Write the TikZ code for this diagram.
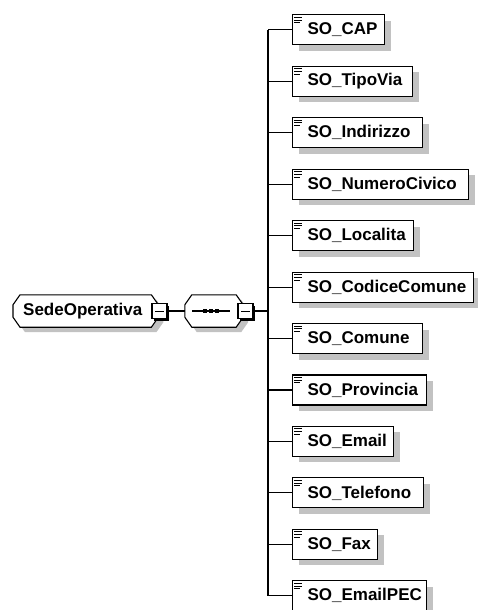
\documentclass[tikz,border=0pt]{standalone}
\usepackage{fontspec}
\setmainfont{Liberation Sans}
\usetikzlibrary{shadows,backgrounds}
\newcommand\octdraw[4]{\draw[#1]
 ([shift={(7+#3,#4)}]#2.north west) -- ([shift={(-7+#3,#4)}]#2.north east) --
 ([shift={(#3,10+#4)}]#2.north east) -- ([shift={(#3,-10+#4)}]#2.south east) --
 ([shift={(-7+#3,#4)}]#2.south east) -- ([shift={(7+#3,#4)}]#2.south west) --
 ([shift={(#3,-10+#4)}]#2.south west) -- ([shift={(#3,10+#4)}]#2.north west) -- cycle;}
\begin{document}
\begin{tikzpicture}[x=1pt,y=-1pt,
  lbl/.style={font=\bfseries\fontsize{17}{19}\selectfont},
  elem/.style={lbl,draw,line width=1.1pt,fill=white,anchor=north west,
    minimum height=30pt,inner xsep=15pt,inner ysep=0pt,align=left,
    drop shadow={shadow xshift=6pt,shadow yshift=-6pt,fill=black!24,opacity=1,draw=none}},
  octo/.style={lbl,draw=none,minimum height=32pt,inner ysep=0pt,inner xsep=10pt,align=left},
  minusbox/.style={draw,line width=1.1pt,fill=white,minimum size=15pt,inner sep=0pt,
    drop shadow={shadow xshift=2pt,shadow yshift=-2pt,fill=black,opacity=1,draw=none}},
  conn/.style={line width=1.1pt},
  icon/.style={line width=0.9pt}]
\useasboundingbox (0,0) rectangle (478,610);
\coordinate (tx) at (268,0);

% elements
\foreach \i/\lab/\w in {0/SO\_CAP/92, 1/SO\_TipoVia/120, 2/SO\_Indirizzo/130,
  3/SO\_NumeroCivico/176, 4/SO\_Localita/121, 5/SO\_CodiceComune/181,
  6/SO\_Comune/130, 7/SO\_Provincia/134, 8/SO\_Email/101, 9/SO\_Telefono/131,
  10/SO\_Fax/85, 11/SO\_EmailPEC/134}{
  \pgfmathsetmacro\tw{\w-30}
  \node[elem,text width=\tw pt] (e\i) at (292,{14.3+51.45*\i}) {\lab};
  \draw[icon] ([shift={(2,3)}]e\i.north west) -- ++(8,0);
  \draw[icon] ([shift={(2,5.7)}]e\i.north west) -- ++(8,0);
  \draw[icon] ([shift={(2,8.4)}]e\i.north west) -- ++(6,0);
  \draw[conn] (e\i.west -| tx) -- (e\i.west);
}
\draw[conn] (e0.west -| tx) -- (e11.west -| tx);

% SedeOperativa
\node[octo,anchor=west,text width=125pt] (sede) at (13,311) {SedeOperativa};
\node[octo,minimum width=58pt] (seq) at (214,311) {};
\begin{pgfonlayer}{background}
  \octdraw{fill=black!24,draw=none}{sede}{5}{5}
  \octdraw{fill=white,draw=black,line width=1.1pt}{sede}{0}{0}
  \octdraw{fill=black!24,draw=none}{seq}{5}{5}
  \octdraw{fill=white,draw=black,line width=1.1pt}{seq}{0}{0}
\end{pgfonlayer}
\node[minusbox] (sedem) at (159.5,311) {};
\draw[line width=1pt] ([shift={(-4.5,0)}]sedem.center) -- ([shift={(4.5,0)}]sedem.center);
\node[minusbox] (seqm) at (245.5,311) {};
\draw[line width=1pt] ([shift={(-4.5,0)}]seqm.center) -- ([shift={(4.5,0)}]seqm.center);

% sequence symbol
\draw[line width=1.1pt] ([shift={(-22,0)}]seq.center) -- ([shift={(16,0)}]seq.center);
\foreach \dx in {-9,-3,3}
  \fill ([shift={(\dx-2,-2)}]seq.center) rectangle ++(4,4);

\draw[conn] (sedem.east) -- (seq.west);
\draw[conn] (seqm.east) -- (seqm.east -| tx);
\end{tikzpicture}
\end{document}
